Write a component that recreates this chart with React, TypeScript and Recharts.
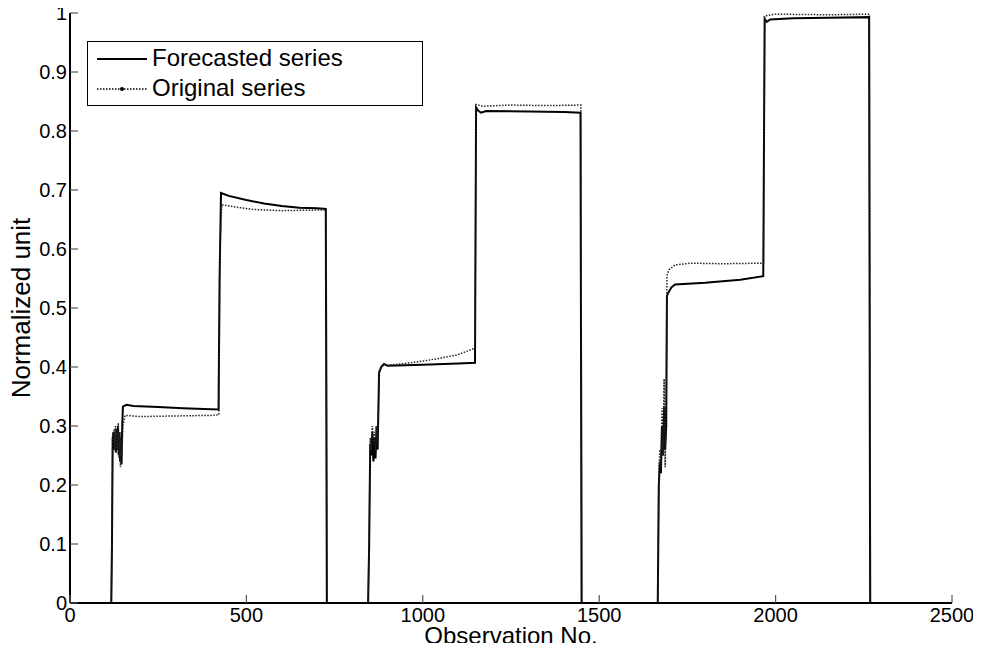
import React from 'react';
import { LineChart, Line, XAxis, YAxis, Legend } from 'recharts';

const FONT = '"Liberation Sans", Arial, Helvetica, sans-serif';

// Forecasted series
const forecastObs = [0, 117, 119, 121, 124, 126, 128, 130, 132, 134, 136, 138, 140, 142, 144, 146, 148, 150, 160, 180, 250, 320, 380, 421, 424, 428, 450, 500, 550, 600, 650, 700, 725, 728, 845, 848, 851, 854, 857, 860, 863, 866, 869, 872, 876, 882, 890, 900, 950, 1000, 1100, 1148, 1151, 1156, 1165, 1180, 1300, 1400, 1447, 1450, 1666, 1669, 1672, 1675, 1678, 1681, 1684, 1687, 1690, 1692, 1695, 1705, 1715, 1800, 1900, 1965, 1969, 1975, 1985, 2050, 2150, 2265, 2268, 2402];
const forecastVal = [0, 0, 0.1, 0.28, 0.29, 0.26, 0.285, 0.255, 0.295, 0.26, 0.3, 0.25, 0.29, 0.24, 0.28, 0.235, 0.3, 0.333, 0.336, 0.334, 0.332, 0.33, 0.329, 0.328, 0.55, 0.695, 0.69, 0.683, 0.677, 0.673, 0.67, 0.669, 0.668, 0, 0, 0.1, 0.27, 0.25, 0.29, 0.24, 0.28, 0.245, 0.3, 0.26, 0.39, 0.4, 0.405, 0.402, 0.403, 0.404, 0.406, 0.407, 0.84, 0.835, 0.831, 0.834, 0.833, 0.832, 0.831, 0, 0, 0.2, 0.24, 0.22, 0.3, 0.25, 0.333, 0.26, 0.3, 0.52, 0.525, 0.535, 0.54, 0.543, 0.548, 0.554, 0.99, 0.985, 0.989, 0.991, 0.992, 0.993, 0, 0];

// Original series
const originalObs = [0, 117, 119, 121, 123, 125, 127, 129, 131, 133, 135, 137, 139, 141, 143, 145, 147, 150, 156, 200, 300, 400, 422, 425, 430, 470, 520, 600, 700, 726, 729, 845, 848, 851, 854, 857, 860, 863, 866, 869, 872, 877, 890, 900, 950, 1000, 1050, 1100, 1148, 1151, 1170, 1250, 1350, 1448, 1451, 1666, 1669, 1672, 1675, 1678, 1681, 1684, 1687, 1690, 1692, 1698, 1715, 1760, 1850, 1966, 1969, 2000, 2150, 2266, 2269, 2402];
const originalVal = [0, 0, 0.12, 0.29, 0.27, 0.295, 0.26, 0.3, 0.255, 0.29, 0.26, 0.305, 0.245, 0.29, 0.23, 0.28, 0.25, 0.3, 0.318, 0.316, 0.317, 0.318, 0.319, 0.6, 0.675, 0.671, 0.667, 0.665, 0.666, 0.666, 0, 0, 0.12, 0.28, 0.26, 0.3, 0.27, 0.29, 0.255, 0.3, 0.27, 0.395, 0.405, 0.403, 0.406, 0.41, 0.415, 0.421, 0.432, 0.845, 0.842, 0.844, 0.843, 0.844, 0, 0, 0.22, 0.26, 0.23, 0.33, 0.25, 0.38, 0.23, 0.35, 0.555, 0.565, 0.573, 0.576, 0.575, 0.576, 0.995, 0.998, 0.997, 0.998, 0, 0];

const xTicks = [0, 500, 1000, 1500, 2000, 2500];
const yTicks = [0, 0.1, 0.2, 0.3, 0.4, 0.5, 0.6, 0.7, 0.8, 0.9, 1];

const forecastData = forecastObs.map((x, i) => ({ x, y: forecastVal[i] }));
const originalData = originalObs.map((x, i) => ({ x, y: originalVal[i] }));

const TICK_COLOR = '#555';
const TICK_LEN = 8;
const TICK_FONT = 20;

const BottomTick = (props: any) => {
  const { x, y, payload } = props;
  return (
    <g>
      <line x1={x} x2={x} y1={y} y2={y - TICK_LEN} stroke={TICK_COLOR} strokeWidth={1.2} />
      <text x={x} y={y + 19} textAnchor="middle" fontSize={TICK_FONT} fontFamily={FONT} fill="#000">
        {String(payload.value)}
      </text>
    </g>
  );
};

const TopTick = (props: any) => {
  const { x, y } = props;
  return <line x1={x} x2={x} y1={y} y2={y + TICK_LEN} stroke={TICK_COLOR} strokeWidth={1.2} />;
};

const LeftTick = (props: any) => {
  const { x, y, payload } = props;
  return (
    <g>
      <line x1={x} x2={x + TICK_LEN} y1={y} y2={y} stroke={TICK_COLOR} strokeWidth={1.2} />
      <text x={x - 3} y={y} dy="0.36em" textAnchor="end" fontSize={TICK_FONT} fontFamily={FONT} fill="#000">
        {String(payload.value)}
      </text>
    </g>
  );
};

const RightTick = (props: any) => {
  const { x, y } = props;
  return <line x1={x} x2={x - TICK_LEN} y1={y} y2={y} stroke={TICK_COLOR} strokeWidth={1.2} />;
};

const XLabel = (props: any) => {
  const vb = props.viewBox || {};
  return (
    <text x={vb.x + vb.width / 2} y={vb.y + 41} textAnchor="middle" fontSize={24} fontFamily={FONT} fill="#000">
      Observation No.
    </text>
  );
};

const YLabel = (props: any) => {
  const vb = props.viewBox || {};
  const cx = vb.x + 30;
  const cy = vb.y + vb.height / 2;
  return (
    <text x={cx} y={cy} transform={`rotate(-90 ${cx} ${cy})`} textAnchor="middle" fontSize={26} fontFamily={FONT} fill="#000">
      Normalized unit
    </text>
  );
};

const LegendContent = (props: any) => {
  const payload = props.payload || [];
  return (
    <div
      style={{
        width: 334,
        height: 63,
        border: '1px solid #000',
        background: '#fff',
        position: 'relative',
        fontFamily: FONT,
        fontSize: 24,
        color: '#000',
      }}
    >
      {payload.map((entry: any, i: number) => {
        const dashed = !!(entry.payload && entry.payload.strokeDasharray);
        const cy = 17 + i * 30;
        return (
          <div key={i}>
            <svg width={50} height={10} style={{ position: 'absolute', left: 9, top: cy - 5 }}>
              <line x1={0} x2={50} y1={5} y2={5} stroke="#000" strokeWidth={dashed ? 1.5 : 2} strokeDasharray={dashed ? '1.5 1.5' : undefined} />
              {dashed && <circle cx={25} cy={5} r={2} fill="#000" />}
            </svg>
            <span style={{ position: 'absolute', left: 64, top: cy - 15, lineHeight: '28px', whiteSpace: 'nowrap' }}>
              {entry.value}
            </span>
          </div>
        );
      })}
    </div>
  );
};

export default function App() {
  return (
    <div style={{ margin: -8 }}>
      <LineChart width={981} height={651} margin={{ top: 13, right: 29, bottom: 0, left: 0 }}>
        <XAxis
          dataKey="x"
          type="number"
          domain={[0, 2500]}
          ticks={xTicks}
          allowDataOverflow
          height={48}
          tickSize={0}
          tickMargin={0}
          tickLine={false}
          axisLine={{ stroke: '#000', strokeWidth: 2 }}
          tick={<BottomTick />}
          interval={0}
          label={{ content: <XLabel /> } as any}
        />
        <XAxis
          xAxisId="top"
          orientation="top"
          dataKey="x"
          type="number"
          domain={[0, 2500]}
          ticks={xTicks}
          allowDataOverflow
          height={0}
          tickSize={0}
          tickMargin={0}
          tickLine={false}
          axisLine={{ stroke: '#000', strokeWidth: 2 }}
          tick={<TopTick />}
          interval={0}
        />
        <YAxis
          type="number"
          domain={[0, 1]}
          ticks={yTicks}
          allowDataOverflow
          width={70}
          tickSize={0}
          tickMargin={0}
          tickLine={false}
          axisLine={{ stroke: '#000', strokeWidth: 2 }}
          tick={<LeftTick />}
          interval={0}
          label={{ content: <YLabel /> } as any}
        />
        <YAxis
          yAxisId="right"
          orientation="right"
          type="number"
          domain={[0, 1]}
          ticks={yTicks}
          allowDataOverflow
          width={0}
          tickSize={0}
          tickMargin={0}
          tickLine={false}
          axisLine={{ stroke: '#000', strokeWidth: 2 }}
          tick={<RightTick />}
          interval={0}
        />
        <Legend
          layout="vertical"
          align="center"
          verticalAlign="middle"
          content={<LegendContent />}
          wrapperStyle={{ left: 87, top: 41, width: 336, height: 65 }}
        />
        <Line
          name="Forecasted series"
          data={forecastData}
          dataKey="y"
          type="linear"
          stroke="#000"
          strokeWidth={2}
          dot={false}
          activeDot={false}
          isAnimationActive={false}
        />
        <Line
          name="Original series"
          data={originalData}
          dataKey="y"
          type="linear"
          stroke="#222"
          strokeWidth={1.5}
          strokeDasharray="1.5 1.5"
          dot={false}
          activeDot={false}
          isAnimationActive={false}
        />
      </LineChart>
    </div>
  );
}
